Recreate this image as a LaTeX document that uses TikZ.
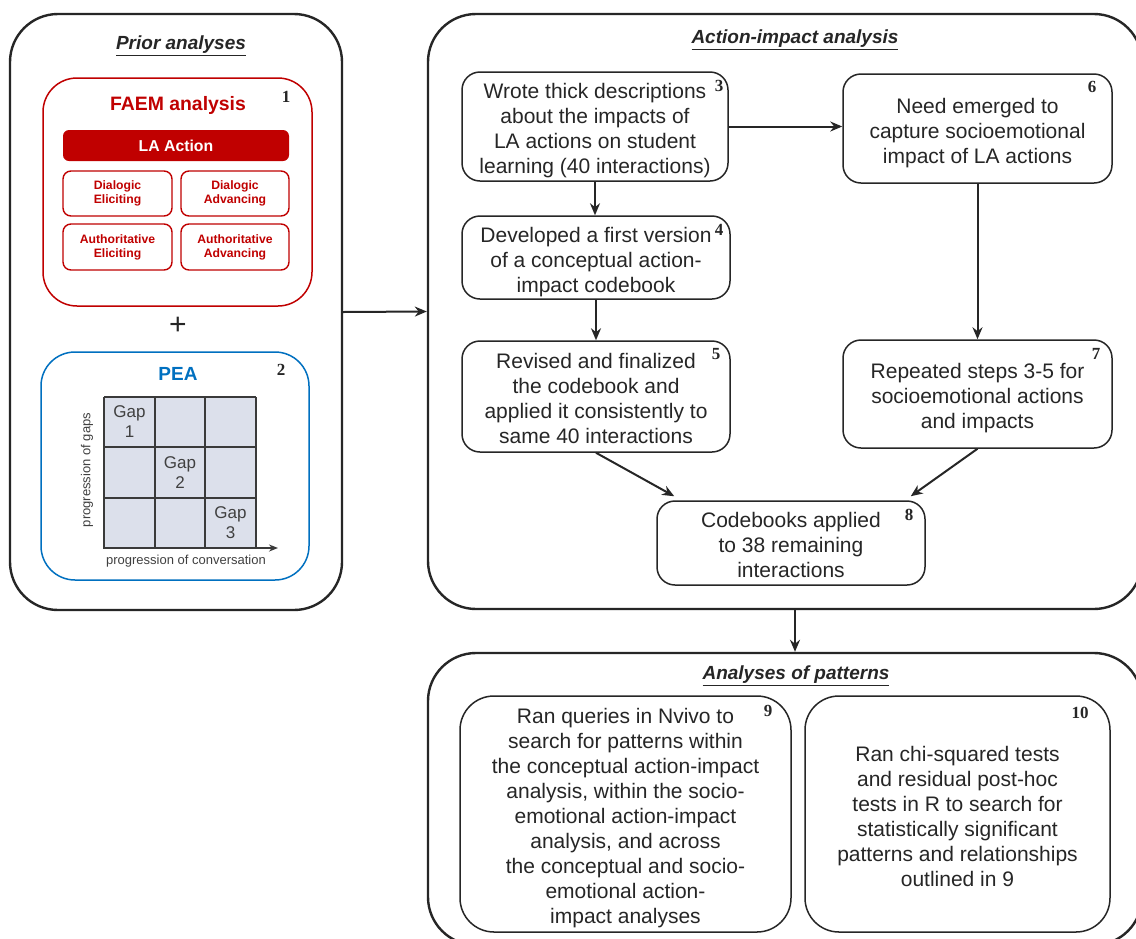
\documentclass[tikz,border=0pt]{standalone}
\usepackage{fontspec}
\setmainfont{Liberation Sans}
\newfontfamily\numfont{Liberation Serif}
\usetikzlibrary{arrows.meta,calc}
\definecolor{faem}{HTML}{C00000}
\definecolor{pea}{HTML}{0070C0}
\definecolor{ink}{HTML}{262626}
\definecolor{cell}{HTML}{DCE0EB}
\definecolor{gridink}{HTML}{3A3A3A}
\definecolor{graytext}{HTML}{404040}
\newcommand\myTop{\rule{0pt}{25pt}}
\newcommand\myBot{\rule[-6pt]{0pt}{6pt}}
\begin{document}
\begin{tikzpicture}[x=1pt,y=-1pt,
  panel/.style={draw=ink, line width=2.4pt, rounded corners=48pt, inner sep=0pt},
  stepbox/.style={draw=ink, line width=1.5pt, rounded corners=18pt, align=center,
    font=\fontsize{21}{25}\selectfont, text=ink, inner sep=0pt},
  bigbox/.style={stepbox, rounded corners=34pt},
  num/.style={font=\numfont\bfseries\fontsize{17}{17}\selectfont, text=ink, inner sep=0pt},
  title/.style={font=\bfseries\itshape\fontsize{19}{22}\selectfont, text=ink, inner sep=0pt},
  redbox/.style={draw=faem, line width=1.4pt, rounded corners=8pt, inner sep=0pt, align=center,
    text=faem, font=\bfseries\fontsize{12.2}{14}\selectfont},
  arr/.style={draw=ink, line width=2pt, -{Stealth[length=12pt,width=10pt]}},
  gridline/.style={draw=gridink, line width=1.8pt},
  gaptext/.style={text=graytext, font=\fontsize{17}{20}\selectfont, align=center, inner sep=0pt},
]
\useasboundingbox (0,0) rectangle (1136,938);
\clip (0,0) rectangle (1136,938);
\fill[white] (0,0) rectangle (1136,938);

% ---------- panels ----------
\node[panel, minimum width=332pt, minimum height=596pt] (prior) at (176,312) {};
\node[panel, minimum width=714pt, minimum height=595pt] (action) at (785,311.5) {};
\node[panel, minimum width=714pt, minimum height=292pt] (patterns) at (785,799) {};

\node[title] (tprior) at (181,46) {\underline{Prior analyses}};
\node[title] (taction) at (795,40) {\underline{Action-impact analysis}};
\node[title] (tpatterns) at (796,676) {\underline{Analyses of patterns}};

% ---------- FAEM ----------
\node[draw=faem, line width=1.5pt, rounded corners=34pt, minimum width=269pt, minimum height=228pt, inner sep=0pt] (faem) at (177.5,192) {};
\node[text=faem, font=\bfseries\fontsize{19.4}{24}\selectfont, inner sep=0pt] (faemt) at (178,105) {FAEM analysis};
\node[num] (n1) at (286,97) {1};
\node[fill=faem, rounded corners=6pt, minimum width=226pt, minimum height=31pt, inner sep=0pt,
  text=white, font=\bfseries\fontsize{15.8}{18}\selectfont] (la) at (176,145.5) {LA Action};
\node[redbox, minimum width=109pt, minimum height=45pt] (de) at (117.5,193.5) {Dialogic\\Eliciting};
\node[redbox, minimum width=108pt, minimum height=45pt] (da) at (235,193.5) {Dialogic\\Advancing};
\node[redbox, minimum width=109pt, minimum height=46pt] (ae) at (117.5,247) {Authoritative\\Eliciting};
\node[redbox, minimum width=108pt, minimum height=46pt] (aa) at (235,247) {Authoritative\\Advancing};

\node[text=ink, font=\fontsize{30}{30}\selectfont, inner sep=0pt] (plus) at (178,326) {+};

% ---------- PEA ----------
\node[draw=pea, line width=1.5pt, rounded corners=34pt, minimum width=268pt, minimum height=228pt, inner sep=0pt] (pea) at (175,466) {};
\node[text=pea, font=\bfseries\fontsize{19}{22}\selectfont, inner sep=0pt] (peat) at (178,374) {PEA};
\node[num] (n2) at (281,370) {2};
\fill[cell] (104,397) rectangle (256,548);
\foreach \i in {0,1,2,3} {
  \draw[gridline] (104+\i*50.667,397) -- (104+\i*50.667,548);
}
\foreach \i in {0,1,2} {
  \draw[gridline] (104,397+\i*50.333) -- (256,397+\i*50.333);
}
\coordinate (axs) at (103,548);
\coordinate (axe) at (278,548);
\draw[draw=gridink, line width=1.8pt, -{Stealth[length=9pt,width=7pt]}] (axs) -- (axe);
\node[gaptext] (g1) at (129.5,422) {Gap\\1};
\node[gaptext] (g2) at (180,472.5) {Gap\\2};
\node[gaptext] (g3) at (230.5,523) {Gap\\3};
\node[text=graytext, font=\fontsize{13}{15}\selectfont, inner sep=0pt] (xl) at (186,561) {progression of conversation};
\node[text=graytext, font=\fontsize{13}{15}\selectfont, inner sep=0pt, rotate=90] (yl) at (87,470) {progression of gaps};

% ---------- action-impact steps ----------
\node[stepbox, minimum width=266pt, minimum height=109pt] (b3) at (595,126.5)
  {\myTop Wrote thick descriptions\\about the impacts of\\LA actions on student\\learning (40 interactions)\myBot};
\node[num] (n3) at (719,86) {3};
\node[stepbox, minimum width=269pt, minimum height=109pt] (b6) at (977.5,128.5)
  {\myTop Need emerged to\\capture socioemotional\\impact of LA actions\myBot};
\node[num] (n6) at (1092,87) {6};
\node[stepbox, minimum width=268pt, minimum height=83pt] (b4) at (596,257.5)
  {\myTop Developed a first version\\of a conceptual action-\\impact codebook\myBot};
\node[num] (n4) at (719,230) {4};
\node[stepbox, minimum width=268pt, minimum height=111pt] (b5) at (596,396.5)
  {\myTop Revised and finalized\\the codebook and\\applied it consistently to\\same 40 interactions\myBot};
\node[num] (n5) at (716,354) {5};
\node[stepbox, minimum width=269pt, minimum height=108pt] (b7) at (977.5,394)
  {\myTop Repeated steps 3-5 for\\socioemotional actions\\and impacts\myBot};
\node[num] (n7) at (1096,354) {7};
\node[stepbox, minimum width=268pt, minimum height=84pt] (b8) at (791,543)
  {\myTop Codebooks applied\\to 38 remaining\\interactions\myBot};
\node[num] (n8) at (909,515) {8};

% ---------- patterns ----------
\node[bigbox, minimum width=331pt, minimum height=236pt] (b9) at (625.5,814)
  {\myTop Ran queries in Nvivo to\\search for patterns within\\the conceptual action-impact\\analysis, within the socio-\\emotional action-impact\\analysis, and across\\the conceptual and socio-\\emotional action-\\impact analyses\myBot};
\node[num] (n9) at (768,711) {9};
\node[bigbox, minimum width=305pt, minimum height=236pt] (b10) at (957.5,814)
  {\myTop Ran chi-squared tests\\and residual post-hoc\\tests in R to search for\\statistically significant\\patterns and relationships\\outlined in 9\myBot};
\node[num] (n10) at (1080,713) {10};

% ---------- connectors ----------
\draw[arr] (prior.east) -- (action.west);
\draw[arr] (b3.east) -- (b3.east -| b6.west);
\draw[arr] (b3.south) -- (b3.south |- b4.north);
\draw[arr] (b4.south) -- (b4.south |- b5.north);
\draw[arr] (b6.south) -- (b6.south |- b7.north);
\draw[arr] (b5.south) -- ($(b8.north west)+(18,-4)$);
\draw[arr] (b7.south) -- ($(b8.north east)+(-15,-4)$);
\draw[arr] ($(action.south)+(10,0)$) -- ($(patterns.north)+(10,0)$);
\end{tikzpicture}
\end{document}
